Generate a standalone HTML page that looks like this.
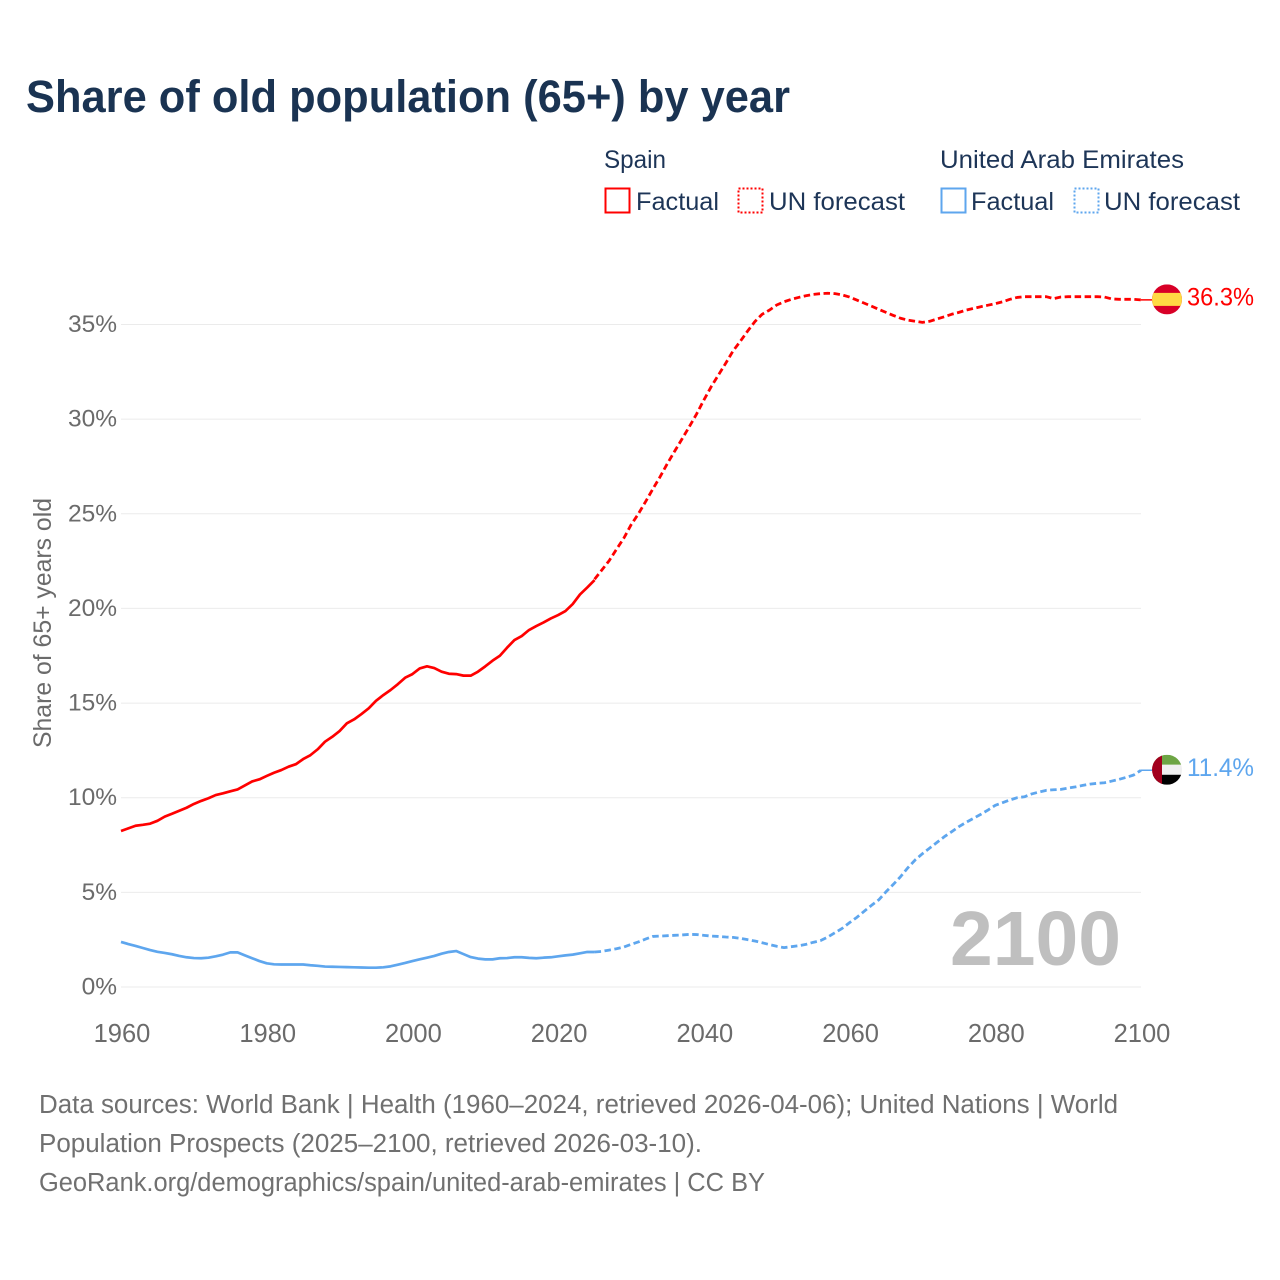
<!DOCTYPE html>
<html>
<head>
<meta charset="utf-8">
<title>Share of old population (65+) by year</title>
<style>
html,body{margin:0;padding:0;background:#fff;}
svg{display:block;font-family:"Liberation Sans",sans-serif;}
.leg{font-size:25px;fill:#1d3557;}
.foot{font-size:25.5px;fill:#707070;}
.ytick{font-size:24.5px;fill:#6b6b6b;text-anchor:end;}
.xtick{font-size:25.5px;fill:#6b6b6b;text-anchor:middle;}
</style>
</head>
<body>
<svg id="chart" xmlns="http://www.w3.org/2000/svg" width="1280" height="1280" viewBox="0 0 1280 1280">
  <rect x="0" y="0" width="1280" height="1280" fill="#ffffff"/>
  <text x="26" y="112" font-size="45" font-weight="700" fill="#1a3352" textLength="764" lengthAdjust="spacingAndGlyphs">Share of old population (65+) by year</text>

  <g>
    <text class="leg" x="604" y="168" textLength="62" lengthAdjust="spacingAndGlyphs">Spain</text>
    <text class="leg" x="940" y="168" textLength="244" lengthAdjust="spacingAndGlyphs">United Arab Emirates</text>
    <rect x="605.5" y="188.5" width="24" height="24" fill="none" stroke="#ff0000" stroke-width="2"/>
    <text class="leg" x="636" y="210" textLength="83" lengthAdjust="spacingAndGlyphs">Factual</text>
    <rect x="738.5" y="188.5" width="24" height="24" fill="none" stroke="#ff0000" stroke-width="2" stroke-dasharray="2 2"/>
    <text class="leg" x="769" y="210" textLength="136" lengthAdjust="spacingAndGlyphs">UN forecast</text>
    <rect x="941.5" y="188.5" width="24" height="24" fill="none" stroke="#5ea6ee" stroke-width="2"/>
    <text class="leg" x="971" y="210" textLength="83" lengthAdjust="spacingAndGlyphs">Factual</text>
    <rect x="1074.5" y="188.5" width="24" height="24" fill="none" stroke="#5ea6ee" stroke-width="2" stroke-dasharray="2 2"/>
    <text class="leg" x="1104" y="210" textLength="136" lengthAdjust="spacingAndGlyphs">UN forecast</text>
  </g>

  <text transform="translate(51,748) rotate(-90)" font-size="25" fill="#6b6b6b" textLength="250" lengthAdjust="spacingAndGlyphs">Share of 65+ years old</text>

  <g id="grid"></g>
  <g id="yticks"></g>
  <g id="xticks"></g>

  <text x="950" y="965" font-size="77" font-weight="700" fill="#bfbfbf" textLength="171" lengthAdjust="spacingAndGlyphs">2100</text>

  <g id="series"></g>
  <g id="endmarks"></g>

  <g>
    <text class="foot" x="39" y="1113" textLength="1079" lengthAdjust="spacingAndGlyphs">Data sources: World Bank | Health (1960–2024, retrieved 2026-04-06); United Nations | World</text>
    <text class="foot" x="39" y="1152" textLength="663" lengthAdjust="spacingAndGlyphs">Population Prospects (2025–2100, retrieved 2026-03-10).</text>
    <text class="foot" x="39" y="1191" textLength="726" lengthAdjust="spacingAndGlyphs">GeoRank.org/demographics/spain/united-arab-emirates | CC BY</text>
  </g>
</svg>

<script>
var yTickValues = [0, 5, 10, 15, 20, 25, 30, 35];
var yTickLabels = ['0%', '5%', '10%', '15%', '20%', '25%', '30%', '35%'];
var xTickYears = [1960, 1980, 2000, 2020, 2040, 2060, 2080, 2100];
var factualStartYear = 1960;
var forecastStartYear = 2025;

var spainFactual = [8.24, 8.38, 8.52, 8.57, 8.63, 8.78, 9.0, 9.15, 9.31, 9.47,
  9.67, 9.83, 9.97, 10.14, 10.23, 10.34, 10.44, 10.65, 10.86, 10.97,
  11.15, 11.32, 11.46, 11.64, 11.77, 12.04, 12.25, 12.56, 12.96, 13.22,
  13.52, 13.93, 14.14, 14.42, 14.72, 15.12, 15.42, 15.69, 16.0, 16.34,
  16.53, 16.83, 16.94, 16.85, 16.66, 16.55, 16.53, 16.45, 16.45, 16.66,
  16.94, 17.24, 17.5, 17.93, 18.33, 18.54, 18.86, 19.07, 19.26, 19.47,
  19.65, 19.86, 20.23, 20.74, 21.11, 21.5];

var spainForecast = [21.54, 22.03, 22.52, 23.12, 23.7, 24.41, 24.99, 25.64, 26.31, 26.96,
  27.66, 28.31, 28.95, 29.6, 30.27, 31.01, 31.71, 32.33, 32.95, 33.6,
  34.11, 34.65, 35.15, 35.54, 35.76, 36.03, 36.2, 36.33, 36.43, 36.52,
  36.59, 36.63, 36.65, 36.63, 36.56, 36.45, 36.29, 36.13, 35.97, 35.8,
  35.64, 35.48, 35.33, 35.23, 35.17, 35.11, 35.17, 35.29, 35.41, 35.54,
  35.64, 35.76, 35.85, 35.94, 36.02, 36.1, 36.2, 36.33, 36.43, 36.47,
  36.47, 36.47, 36.47, 36.37, 36.45, 36.47, 36.47, 36.47, 36.47, 36.47,
  36.45, 36.35, 36.33, 36.33, 36.33, 36.3];

var uaeFactual = [2.38, 2.27, 2.17, 2.06, 1.95, 1.86, 1.8, 1.73, 1.64, 1.57,
  1.53, 1.52, 1.55, 1.62, 1.71, 1.83, 1.83, 1.67, 1.52, 1.37,
  1.25, 1.2, 1.19, 1.19, 1.19, 1.19, 1.15, 1.12, 1.08, 1.07,
  1.06, 1.05, 1.04, 1.03, 1.02, 1.02, 1.04, 1.09, 1.18, 1.27,
  1.37, 1.46, 1.55, 1.64, 1.76, 1.85, 1.9, 1.74, 1.58, 1.5,
  1.46, 1.46, 1.52, 1.53, 1.57, 1.57, 1.54, 1.52, 1.55, 1.57,
  1.62, 1.67, 1.71, 1.78, 1.85, 1.85];

var uaeForecast = [1.85, 1.88, 1.95, 2.02, 2.11, 2.25, 2.38, 2.53, 2.67, 2.69,
  2.71, 2.73, 2.75, 2.78, 2.77, 2.73, 2.69, 2.67, 2.64, 2.62,
  2.57, 2.5, 2.43, 2.34, 2.24, 2.15, 2.08, 2.13, 2.18, 2.25,
  2.36, 2.45, 2.64, 2.87, 3.1, 3.4, 3.68, 4.0, 4.31, 4.6,
  5.03, 5.42, 5.83, 6.3, 6.71, 7.04, 7.34, 7.64, 7.94, 8.2,
  8.47, 8.7, 8.91, 9.12, 9.35, 9.6, 9.74, 9.88, 10.0, 10.05,
  10.2, 10.3, 10.39, 10.42, 10.44, 10.51, 10.57, 10.65, 10.72, 10.76,
  10.79, 10.88, 10.97, 11.08, 11.2, 11.45];

var spainEndLabel = '36.3%';
var uaeEndLabel = '11.4%';

var NS = 'http://www.w3.org/2000/svg';
var SPAIN_COLOR = '#ff0000';
var UAE_COLOR = '#5ea6ee';

function xScale(year) { return 121 + (year - 1960) * (1141 - 121) / 140; }
function yScale(value) { return 987 - value * (987 - 324.5) / 35; }

function make(tag, attrs, parent) {
  var el = document.createElementNS(NS, tag);
  for (var k in attrs) { el.setAttribute(k, attrs[k]); }
  parent.appendChild(el);
  return el;
}

function linePoints(values, startYear) {
  return values.map(function (v, i) {
    return xScale(startYear + i).toFixed(2) + ',' + yScale(v).toFixed(2);
  }).join(' ');
}

var gridGroup = document.getElementById('grid');
var yTickGroup = document.getElementById('yticks');
var xTickGroup = document.getElementById('xticks');
var seriesGroup = document.getElementById('series');
var endGroup = document.getElementById('endmarks');

yTickValues.forEach(function (v, i) {
  var gl = make('line', { x1: xScale(1960), x2: xScale(2100), y1: yScale(v), y2: yScale(v), stroke: '#ebebeb', 'stroke-width': 1 }, gridGroup);
  
  
  var t = make('text', { x: 117, y: yScale(v) + 7.5, 'class': 'ytick' }, yTickGroup);
  t.textContent = yTickLabels[i];
  
  
});

xTickYears.forEach(function (yr) {
  var t = make('text', { x: xScale(yr) + 1, y: 1042, 'class': 'xtick' }, xTickGroup);
  t.textContent = String(yr);
  
  
});

var lineSpainFactual = make('polyline', { points: linePoints(spainFactual, factualStartYear), fill: 'none', stroke: SPAIN_COLOR, 'stroke-width': 2.7, 'stroke-linejoin': 'round' }, seriesGroup);



var lineSpainForecast = make('polyline', { points: linePoints(spainForecast, forecastStartYear), fill: 'none', stroke: SPAIN_COLOR, 'stroke-width': 2.8, 'stroke-dasharray': '6.5 3.5', 'stroke-linejoin': 'round' }, seriesGroup);



var lineUaeFactual = make('polyline', { points: linePoints(uaeFactual, factualStartYear), fill: 'none', stroke: UAE_COLOR, 'stroke-width': 2.7, 'stroke-linejoin': 'round' }, seriesGroup);



var lineUaeForecast = make('polyline', { points: linePoints(uaeForecast, forecastStartYear), fill: 'none', stroke: UAE_COLOR, 'stroke-width': 2.8, 'stroke-dasharray': '6.5 3.5', 'stroke-linejoin': 'round' }, seriesGroup);



var spainEndY = yScale(spainForecast[spainForecast.length - 1]);
var uaeEndY = yScale(uaeForecast[uaeForecast.length - 1]);
var flagX = xScale(2100) + 26;

var connSpain = make('line', { x1: xScale(2100), x2: flagX, y1: spainEndY, y2: spainEndY, stroke: SPAIN_COLOR, 'stroke-width': 1.5 }, endGroup);


var connUae = make('line', { x1: xScale(2100), x2: flagX, y1: uaeEndY, y2: uaeEndY, stroke: UAE_COLOR, 'stroke-width': 1.5 }, endGroup);



var defs = make('defs', {}, endGroup);
var clip = make('clipPath', { id: 'flagClip' }, defs);
make('circle', { cx: 0, cy: 0, r: 15 }, clip);

// Spain flag
var spainFlag = make('g', { transform: 'translate(' + flagX + ',' + (spainEndY - 0.5) + ')' }, endGroup);


var spainClipped = make('g', { 'clip-path': 'url(#flagClip)' }, spainFlag);
make('rect', { x: -15, y: -15, width: 30, height: 30, fill: '#d80027' }, spainClipped);
make('rect', { x: -15, y: -6.5, width: 30, height: 13, fill: '#ffda44' }, spainClipped);

// UAE flag
var uaeFlag = make('g', { transform: 'translate(' + flagX + ',' + (uaeEndY - 0.5) + ')' }, endGroup);


var clipped = make('g', { 'clip-path': 'url(#flagClip)' }, uaeFlag);
make('rect', { x: -15, y: -15, width: 30, height: 10, fill: '#6da544' }, clipped);
make('rect', { x: -15, y: -5, width: 30, height: 10, fill: '#f0f0f0' }, clipped);
make('rect', { x: -15, y: 5, width: 30, height: 10, fill: '#000000' }, clipped);
make('rect', { x: -15, y: -15, width: 10, height: 30, fill: '#a2001d' }, clipped);

var spainLabel = make('text', { x: 1187, y: spainEndY + 5.5, 'font-size': 25, fill: SPAIN_COLOR, textLength: 67, lengthAdjust: 'spacingAndGlyphs' }, endGroup);
spainLabel.textContent = spainEndLabel;



var uaeLabel = make('text', { x: 1187, y: uaeEndY + 5.5, 'font-size': 25, fill: UAE_COLOR, textLength: 67, lengthAdjust: 'spacingAndGlyphs' }, endGroup);
uaeLabel.textContent = uaeEndLabel;


</script>
</body>
</html>
